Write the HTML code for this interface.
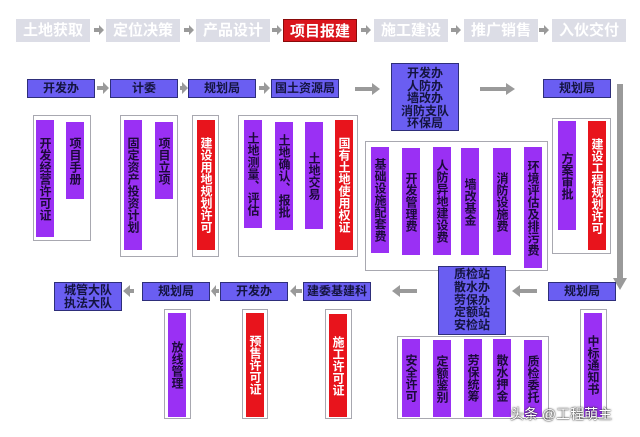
<!DOCTYPE html>
<html><head><meta charset="utf-8"><style>
body{margin:0;width:640px;height:437px;background:#fff;position:relative;overflow:hidden;font-family:"Liberation Sans","Noto Sans CJK SC",sans-serif;font-weight:bold}
div{position:absolute;box-sizing:border-box}
.t{background:#dcdde6;color:#fff;font-size:15px;text-align:center;line-height:23px;height:23px;top:19px;width:74px}
.h{background:#6a5ef2;border:1px solid #2e2e7a;color:#14143f;font-size:12px;text-align:center;line-height:17px;height:19px;width:68px}
.g{border:1px solid #a8a8b0;background:#fff}
.b{background:#9a30f4;color:#1c0a3a;font-size:12px;writing-mode:vertical-rl;text-orientation:upright;width:18px;line-height:18px;display:flex;justify-content:center;align-items:center;padding:3px 0;white-space:nowrap}
.r{background:#e8141c;color:#fff}
</style></head><body>
<div class="t" style="left:16px">土地获取</div>
<div class="t" style="left:106px">定位决策</div>
<div class="t" style="left:196px">产品设计</div>
<div class="t" style="left:283px;background:#d9141c;border:1px solid #8a0a0a">项目报建</div>
<div class="t" style="left:374px">施工建设</div>
<div class="t" style="left:464px">推广销售</div>
<div class="t" style="left:552px">入伙交付</div>

<svg width="640" height="437" style="position:absolute;left:0;top:0">
<g fill="#9a9a9a">
<polygon points="94,28 99,28 99,25 104,30 99,35 99,32 94,32"/>
<polygon points="184,28 189,28 189,25 194,30 189,35 189,32 184,32"/>
<polygon points="272,28 277,28 277,25 282,30 277,35 277,32 272,32"/>
<polygon points="361,28 366,28 366,25 371,30 366,35 366,32 361,32"/>
<polygon points="451,28 456,28 456,25 461,30 456,35 456,32 451,32"/>
<polygon points="539,28 544,28 544,25 549,30 544,35 544,32 539,32"/>
<polygon points="97,86 103,86 103,82 109,88 103,94 103,90 97,90"/>
<polygon points="180,86 182,86 182,82 188,88 182,94 182,90 180,90"/>
<polygon points="259,86 264,86 264,82 270,88 264,94 264,90 259,90"/>
<polygon points="355,87 372,87 372,83 380,89 372,95 372,91 355,91"/>
<polygon points="480,87 506,87 506,83 515,89 506,95 506,91 480,91"/>
<rect x="617" y="84" width="6" height="196"/>
<polygon points="613,278 627,278 620,290"/>
<polygon points="537,289 520,289 520,285 512,291 520,297 520,293 537,293"/>
<polygon points="417,289 400,289 400,285 392,291 400,297 400,293 417,293"/>
<polygon points="302,289 296,289 296,285 290,291 296,297 296,293 302,293"/>
<polygon points="219,289 216,289 216,285 211,291 216,297 216,293 219,293"/>
<polygon points="134,289 130,289 130,285 123,291 130,297 130,293 134,293"/>
</g></svg>

<div class="h" style="left:27px;top:79px">开发办</div>
<div class="h" style="left:110px;top:79px">计委</div>
<div class="h" style="left:188px;top:79px">规划局</div>
<div class="h" style="left:271px;top:79px">国土资源局</div>
<div class="h" style="left:391px;top:63px;height:68px;line-height:12.5px;padding-top:3px">开发办<br>人防办<br>墙改办<br>消防支队<br>环保局</div>
<div class="h" style="left:543px;top:79px">规划局</div>

<div class="g" style="left:33px;top:115px;width:58px;height:126px"></div>
<div class="b" style="left:36px;top:120px;height:117px">开发经营许可证</div>
<div class="b" style="left:66px;top:122px;height:77px">项目手册</div>
<div class="g" style="left:120px;top:115px;width:58px;height:142px"></div>
<div class="b" style="left:124px;top:120px;height:130px">固定资产投资计划</div>
<div class="b" style="left:155px;top:122px;height:77px">项目立项</div>
<div class="g" style="left:192px;top:115px;width:27px;height:142px"></div>
<div class="b r" style="left:197px;top:120px;height:130px">建设用地规划许可</div>
<div class="g" style="left:238px;top:115px;width:120px;height:142px"></div>
<div class="b" style="left:244px;top:120px;height:108px">土地测量、评估</div>
<div class="b" style="left:275px;top:122px;height:108px">土地确认、报批</div>
<div class="b" style="left:305px;top:122px;height:107px">土地交易</div>
<div class="b r" style="left:335px;top:120px;height:130px">国有土地使用权证</div>

<div class="g" style="left:365px;top:141px;width:183px;height:130px"></div>
<div class="b" style="left:371px;top:147px;height:106px">基础设施配套费</div>
<div class="b" style="left:402px;top:148px;height:107px">开发管理费</div>
<div class="b" style="left:433px;top:147px;height:108px">人防异地建设费</div>
<div class="b" style="left:461px;top:148px;height:107px">墙改基金</div>
<div class="b" style="left:493px;top:148px;height:107px">消防设施费</div>
<div class="b" style="left:524px;top:147px;height:121px">环境评估及排污费</div>
<div class="g" style="left:552px;top:118px;width:59px;height:136px"></div>
<div class="b" style="left:558px;top:121px;height:109px">方案审批</div>
<div class="b r" style="left:588px;top:121px;height:129px">建设工程规划许可</div>

<div class="h" style="left:54px;top:282px;height:29px;line-height:13px;padding-top:1px">城管大队<br>执法大队</div>
<div class="h" style="left:142px;top:282px">规划局</div>
<div class="h" style="left:220px;top:282px">开发办</div>
<div class="h" style="left:303px;top:282px">建委基建科</div>
<div class="h" style="left:438px;top:266px;height:69px;line-height:12.8px;padding-top:1px">质检站<br>散水办<br>劳保办<br>定额站<br>安检站</div>
<div class="h" style="left:548px;top:282px">规划局</div>

<div class="g" style="left:164px;top:309px;width:27px;height:110px"></div>
<div class="b" style="left:168px;top:313px;height:104px">放线管理</div>
<div class="g" style="left:242px;top:309px;width:26px;height:110px"></div>
<div class="b r" style="left:246px;top:313px;height:104px">预售许可证</div>
<div class="g" style="left:325px;top:309px;width:27px;height:110px"></div>
<div class="b r" style="left:329px;top:314px;height:103px">施工许可证</div>
<div class="g" style="left:397px;top:336px;width:152px;height:83px"></div>
<div class="b" style="left:402px;top:339px;height:78px">安全许可</div>
<div class="b" style="left:433px;top:340px;height:77px">定额鉴别</div>
<div class="b" style="left:464px;top:339px;height:78px">劳保统筹</div>
<div class="b" style="left:493px;top:339px;height:78px">散水押金</div>
<div class="b" style="left:524px;top:340px;height:77px">质检委托</div>
<div class="g" style="left:580px;top:309px;width:27px;height:110px"></div>
<div class="b" style="left:584px;top:313px;height:104px">中标通知书</div>

<div style="left:510px;top:404px;font-size:14px;font-weight:normal;color:#fff;text-shadow:0 0 2px #333,0 0 1px #000">头条 @工程萌主</div>
</body></html>
